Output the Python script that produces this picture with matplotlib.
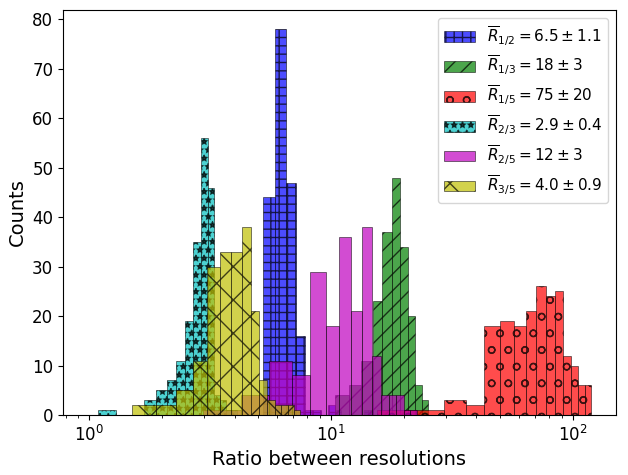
import matplotlib
matplotlib.use("Agg")
import matplotlib.pyplot as plt

# ---- data (bin edges and counts per series) ----
edges_12 = [5.22, 5.87, 6.52, 7.16, 7.81, 8.46, 9.11, 9.75, 10.40, 11.05, 11.70, 12.34, 12.99, 13.64, 14.29, 14.93]
counts_12 = [44, 78, 47, 16, 1, 1, 0, 2, 1, 0, 0, 0, 0, 1, 1]

edges_13 = [3.02, 4.50, 5.98, 7.46, 8.94, 10.42, 11.90, 13.38, 14.86, 16.34, 17.82, 19.30, 20.78, 22.26, 23.74, 25.22]
counts_13 = [0, 0, 0, 0, 0, 4, 6, 11, 23, 37, 48, 34, 20, 6, 3]

edges_15 = [15.5, 22.4, 29.3, 36.2, 43.1, 50.0, 56.9, 63.8, 70.7, 77.6, 84.5, 91.4, 98.3, 105.2, 112.1, 119.0]
counts_15 = [1, 1, 3, 2, 18, 19, 18, 21, 26, 24, 25, 12, 10, 6, 6]

edges_23 = [1.09, 1.29, 1.49, 1.69, 1.89, 2.09, 2.29, 2.49, 2.69, 2.89, 3.09, 3.29, 3.49, 3.69, 3.89, 4.09]
counts_23 = [1, 0, 0, 3, 5, 7, 11, 19, 35, 56, 46, 4, 3, 1, 1]

edges_25 = [2.95, 4.26, 5.57, 6.88, 8.19, 9.50, 10.81, 12.12, 13.43, 14.74, 16.05, 17.36, 18.67, 19.98, 21.29, 22.60]
counts_25 = [1, 4, 11, 8, 29, 18, 36, 21, 38, 12, 4, 4, 4, 1, 1]

edges_35 = [1.50, 1.90, 2.29, 2.69, 3.08, 3.48, 3.87, 4.27, 4.66, 5.06, 5.45, 5.85, 6.24, 6.64, 7.03, 7.43]
counts_35 = [2, 2, 5, 11, 30, 33, 33, 38, 21, 7, 3, 2, 2, 2, 1]

labels = [r'$\overline{R}_{1/2} = 6.5 \pm 1.1$',
          r'$\overline{R}_{1/3} = 18 \pm 3$',
          r'$\overline{R}_{1/5} = 75 \pm 20$',
          r'$\overline{R}_{2/3} = 2.9 \pm 0.4$',
          r'$\overline{R}_{2/5} = 12 \pm 3$',
          r'$\overline{R}_{3/5} = 4.0 \pm 0.9$']

series = [(edges_12, counts_12), (edges_13, counts_13), (edges_15, counts_15),
          (edges_23, counts_23), (edges_25, counts_25), (edges_35, counts_35)]
colors = ['b', 'g', 'r', 'c', 'm', 'y']
hatches = ['++', '//', 'o', '**', '', 'x']

fig = plt.figure(figsize=(6.28, 4.75), dpi=100)
ax = fig.add_axes([63/628, 60/475, 553/628, 405/475])

for (edges, counts), col, hat, lab in zip(series, colors, hatches, labels):
    ax.hist(edges[:-1], bins=edges, weights=counts, color=col, alpha=0.7,
            hatch=hat, edgecolor='black', linewidth=0.5, label=lab)

ax.set_xscale('log')
ax.set_xlim(0.78, 151)
ax.set_xlabel('Ratio between resolutions', fontsize=14)
ax.set_ylabel('Counts', fontsize=14)
ax.tick_params(axis='both', which='major', labelsize=12)
ax.legend(loc='upper right', fontsize=11, labelspacing=0.4)

fig.savefig('out.png', dpi=100)
